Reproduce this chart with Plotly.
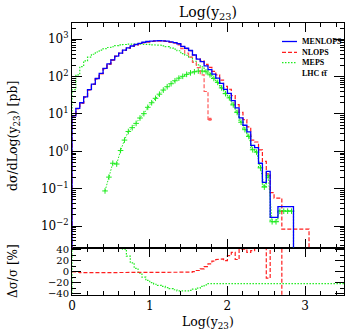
import plotly.graph_objects as go

# ---------------- data ----------------
BIN_W = 0.05
bin_lo = [round(BIN_W * i, 2) for i in range(70)]

menlops = [8.9, 14.1, 20, 28.8, 44.7, 63, 89, 123, 166, 219,
           282, 355, 427, 513, 589, 661, 724, 776, 832, 871,
           891, 912, 923, 912, 891, 851, 813, 759, 646, 575,
           501, 380, 295, 251, 195, 155, 117, 91, 66, 45.7,
           35.5, 22.9, 14.5, 7.9, 5.0, 3.3, 1.45, 1.26, 0.48, 0.148,
           0.29, 0.017, 0.017, 0.033, 0.033, 0.033, 0.033, 0, 0, 0,
           0, 0, 0, 0, 0, 0, 0, 0, 0, 0]

nlops = [8.9, 14.0, 19.6, 28.2, 43.8, 62, 87, 121, 163, 215,
         276, 348, 418, 503, 577, 648, 710, 760, 815, 854,
         873, 894, 905, 894, 873, 834, 797, 744, 633, 564,
         496, 380, 301, 264, 213, 177, 139, 111, 81, 55,
         46, 31, 17.7, 11.1, 7.1, 4.5, 2.0, 1.78, 1.10, 0.54,
         0.25, 0.078, 0.056, 0.056, 0.0083, 0.0083, 0.0083, 0.0083, 0.0083, 0.0083,
         0.0083, 0, 0, 0, 0, 0, 0, 0, 0, 0]

nlops_part = [8.9, 14.0, 19.6, 28.2, 43.8, 62, 87, 121, 163, 215,
              276, 348, 418, 503, 577, 648, 710, 760, 815, 854,
              873, 894, 905, 894, 873, 834, 797, 708, 562, 427,
              331, 240, 174, 112, 40, 7.2]

meps = [44.7, 112, 186, 263, 331, 398, 457, 513, 562, 603,
        631, 676, 708, 724, 741, 741, 745, 750, 749, 732,
        713, 702, 692, 666, 633, 587, 545, 493, 413, 374,
        331, 258, 207, 183, 148, 121, 91, 71, 51, 35.6,
        27.7, 17.9, 11.3, 6.2, 3.9, 2.6, 1.13, 0.98, 0.37, 0.115,
        0.226, 0.0133, 0.0133, 0.026, 0.026, 0.026, 0.026, 0, 0, 0,
        0, 0, 0, 0, 0, 0, 0, 0, 0, 0]

# second MEPS curve (with + markers), starting at bin 8
meps_plus_first_bin = 8
meps_plus = [0.087, 0.204, 0.48, 0.457, 1.05, 2.0, 3.4, 4.3, 5.6, 7.8,
             10.2, 15.1, 20, 26.3, 33.9, 43.7, 53.7, 64.6, 77.6, 91.2,
             102, 115, 126, 135, 141, 141, 135, 112, 89, 70,
             50, 35, 27, 17.5, 11, 6.0, 3.8, 2.5, 1.1, 0.95,
             0.36, 0.11, 0.22, 0.013, 0.013, 0.025, 0.025, 0.025, 0.025]

# ratio panel, (X - MENLOPS)/MENLOPS in %
ratio_menlops = [0] * 70
ratio_nlops = [0, -1, -2, -2, -2, -2, -2, -2, -2, -2,
               -2, -2, -2, -2, -2, -2, -2, -2, -2, -2,
               -2, -2, -2, -2, -2, -2, -2, -2, -2, -2,
               -1, 0, 2, 5, 9, 14, 19, 22, 23, 20,
               29, 35, 22, 41, 41, 35, 38, 80, 130, 260,
               -12, 360, 230, 70, -75, 0, 0, 0, 0, 0,
               0, 0, 0, 0, 0, 0, 0, 0, 0, 0]
ratio_meps = [400, 700, 830, 810, 640, 530, 410, 320, 240, 175,
              124, 90, 55, 41, 28, 16, 6, -3, -10, -16,
              -20, -23, -25, -27, -29, -31, -33, -35, -36, -35,
              -34, -32, -30, -27, -24, -22, -22, -22, -22, -22,
              -22, -22, -22, -22, -22, -22, -22, -22, -22, -22,
              -22, -22, -22, -22, -22, -22, -22, -22, -22, -22,
              -22, -22, -22, -22, -22, -22, -22, -22, -22, -22]

series_names = ["MENLOPS", "NLOPS", "MEPS"]
x_ticks = [0, 1, 2, 3]
y_exps = [-2, -1, 0, 1, 2, 3]
r_ticks = [-40, -20, 0, 20, 40]

# ---------------- helpers ----------------
FLOOR = 1e-6


def hist_path(lo, w, vals, start_floor=None, end_floor=None):
    n = len(vals)
    while n > 0 and vals[n - 1] == 0:
        n -= 1
    xs, ys = [], []
    if start_floor is not None:
        xs.append(lo[0]); ys.append(start_floor)
    for i in range(n):
        xs += [lo[i], lo[i] + w]
        ys += [vals[i], vals[i]]
    if end_floor is not None:
        xs.append(lo[n - 1] + w); ys.append(end_floor)
    return xs, ys


BLUE = "rgb(0,0,255)"
RED = "rgb(255,30,30)"
GREEN = "rgb(30,235,30)"
FONT = "DejaVu Serif"
LEGFONT = "Liberation Serif"

fig = go.Figure()

# ---- main panel ----
x, y = hist_path(bin_lo, BIN_W, meps, FLOOR, FLOOR)
fig.add_trace(go.Scatter(x=x, y=y, mode="lines", xaxis="x2", yaxis="y2",
                         line=dict(color=GREEN, width=1.2, dash="1.5px,1.5px")))
xc = [bin_lo[meps_plus_first_bin + i] + BIN_W / 2 for i in range(len(meps_plus))]
fig.add_trace(go.Scatter(x=xc, y=meps_plus, mode="lines+markers", xaxis="x2", yaxis="y2",
                         line=dict(color=GREEN, width=1, dash="1.5px,1.5px"),
                         marker=dict(symbol="cross-thin", size=4,
                                     line=dict(color=GREEN, width=1))))
x, y = hist_path(bin_lo, BIN_W, nlops_part, FLOOR, None)
fig.add_trace(go.Scatter(x=x, y=y, mode="lines", xaxis="x2", yaxis="y2",
                         line=dict(color="rgb(255,90,90)", width=1.2, dash="4px,2px")))
fig.add_trace(go.Scatter(x=[bin_lo[len(nlops_part) - 1] + BIN_W / 2], y=[nlops_part[-1]],
                         mode="markers", xaxis="x2", yaxis="y2",
                         marker=dict(symbol="square", size=3, color="rgb(255,90,90)")))
x, y = hist_path(bin_lo, BIN_W, nlops, FLOOR, FLOOR)
fig.add_trace(go.Scatter(x=x, y=y, mode="lines", xaxis="x2", yaxis="y2",
                         line=dict(color=RED, width=1.2, dash="4px,2px")))
x, y = hist_path(bin_lo, BIN_W, menlops, FLOOR, FLOOR)
fig.add_trace(go.Scatter(x=x, y=y, mode="lines", xaxis="x2", yaxis="y2",
                         line=dict(color=BLUE, width=1.3)))

# ---- ratio panel ----
x, y = hist_path(bin_lo, BIN_W, ratio_menlops)
fig.add_trace(go.Scatter(x=x, y=y, mode="lines", xaxis="x", yaxis="y",
                         line=dict(color="rgb(150,150,255)", width=1)))
x, y = hist_path(bin_lo, BIN_W, ratio_meps, start_floor=-100)
fig.add_trace(go.Scatter(x=x, y=y, mode="lines", xaxis="x", yaxis="y",
                         line=dict(color=GREEN, width=1.2, dash="1.5px,1.5px")))
x, y = hist_path(bin_lo, BIN_W, ratio_nlops)
fig.add_trace(go.Scatter(x=x, y=y, mode="lines", xaxis="x", yaxis="y",
                         line=dict(color=RED, width=1.2, dash="4px,2px")))

RATIO_TOP = 0.1746
axis_common = dict(showline=True, linecolor="black", linewidth=1, mirror="allticks",
                   ticks="inside", tickcolor="black", showgrid=False, zeroline=False)

minor_log = [m * 10 ** k for k in range(-3, 4) for m in range(2, 10)]

fig.update_layout(
    width=347, height=332,
    margin=dict(l=72, r=3, t=23, b=37),
    paper_bgcolor="white", plot_bgcolor="white",
    showlegend=False,
    font=dict(family=FONT, size=11, color="black"),
    title=dict(text="Log(y<sub>23</sub>)", xref="paper", x=0.5, xanchor="center",
               yref="container", y=1 - 12 / 332, yanchor="middle",
               font=dict(family=FONT, size=14, color="black")),
    xaxis=dict(domain=[0, 1], range=[0, 3.5], anchor="y", tickvals=x_ticks,
               ticklen=9, tickwidth=1,
               minor=dict(dtick=0.2, tick0=0, ticks="inside", ticklen=4, tickcolor="black"),
               tickfont=dict(family=FONT, size=12), **axis_common),
    xaxis2=dict(domain=[0, 1], range=[0, 3.5], anchor="y2", matches="x",
                tickvals=x_ticks, showticklabels=False, ticklen=9,
                minor=dict(dtick=0.2, tick0=0, ticks="inside", ticklen=4, tickcolor="black"),
                **axis_common),
    yaxis=dict(domain=[0, RATIO_TOP], range=[-42.5, 43.8], anchor="x",
               tickvals=r_ticks, ticktext=[("\u2212" + str(-v)) if v < 0 else str(v) for v in r_ticks],
               ticklen=9,
               minor=dict(dtick=10, tick0=0, ticks="inside", ticklen=4, tickcolor="black"),
               tickfont=dict(family=FONT, size=10), **axis_common),
    yaxis2=dict(domain=[RATIO_TOP, 1], type="log", range=[-2.575, 3.436], anchor="x2",
                tickvals=[10 ** e for e in y_exps],
                ticktext=["10<sup>" + (("\u2212" + str(-e)) if e < 0 else str(e)) + "</sup>" for e in y_exps],
                ticklen=10,
                minor=dict(tickvals=minor_log, ticks="inside", ticklen=4, tickcolor="black"),
                tickfont=dict(family=FONT, size=12), **axis_common),
)

# axis titles
fig.add_annotation(text="dσ/dLog(y<sub>23</sub>) [pb]", textangle=-90, xref="paper", yref="paper",
                   x=(13 - 72) / 272, y=(295 - 136) / 272, showarrow=False,
                   xanchor="center", yanchor="middle", font=dict(family=FONT, size=12.5))
fig.add_annotation(text="Δσ/σ [%]", textangle=-90, xref="paper", yref="paper",
                   x=(13 - 72) / 272, y=(295 - 271) / 272, showarrow=False,
                   xanchor="center", yanchor="middle", font=dict(family=FONT, size=12))
fig.add_annotation(text="Log(y<sub>23</sub>)", xref="paper", yref="paper",
                   x=0.5, y=(295 - 322) / 272, showarrow=False,
                   xanchor="center", yanchor="middle", font=dict(family=FONT, size=12.5))

# legend (manual, compact)
leg_styles = [dict(color=BLUE, width=1.3), dict(color=RED, width=1.2, dash="4px,2px"),
              dict(color=GREEN, width=1.2, dash="1.5px,1.5px")]
leg_y_px = [41.5, 52.3, 62.7]
for name, st, ypx in zip(series_names, leg_styles, leg_y_px):
    yp = (295 - ypx) / 272
    fig.add_shape(type="line", xref="paper", yref="paper",
                  x0=(282 - 72) / 272, x1=(297 - 72) / 272, y0=yp, y1=yp, line=st)
    fig.add_annotation(text="<b>" + name + "</b>", xref="paper", yref="paper",
                       x=(300 - 72) / 272, y=yp, xanchor="left", yanchor="middle",
                       showarrow=False, font=dict(family=LEGFONT, size=8))
fig.add_annotation(text="<b>LHC tt\u0305</b>", xref="paper", yref="paper",
                   x=(300 - 72) / 272, y=(295 - 73.3) / 272, xanchor="left", yanchor="middle",
                   showarrow=False, font=dict(family=LEGFONT, size=8))

fig.write_html("out.html", config={"displayModeBar": False},
               post_script="document.body.style.margin='0';document.body.style.overflow='hidden';")
